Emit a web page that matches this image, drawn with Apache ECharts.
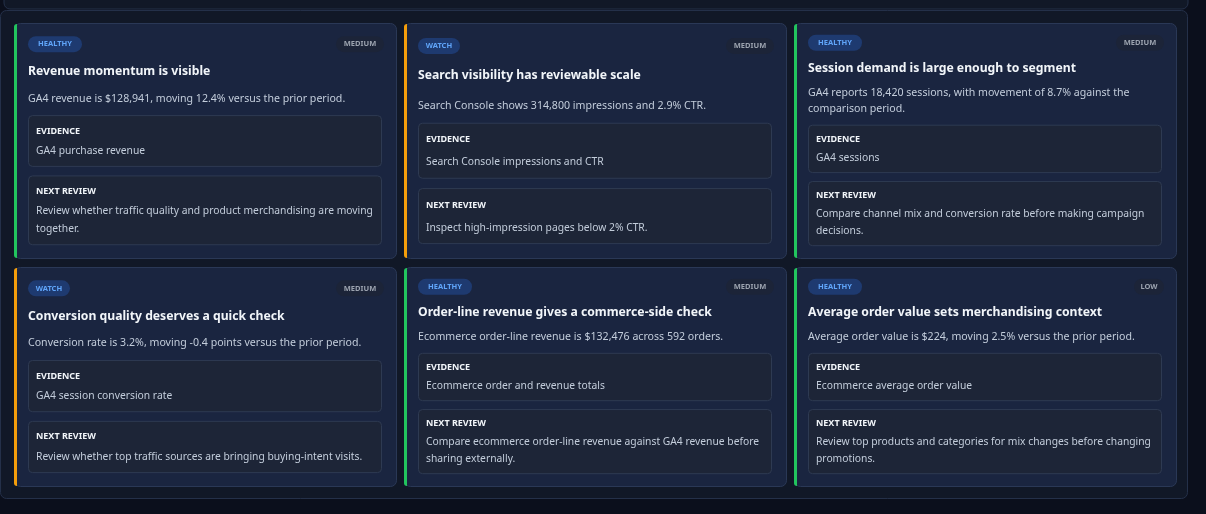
<!DOCTYPE html><html><head><meta charset="utf-8">
<script src="https://cdn.jsdelivr.net/npm/echarts@6/dist/echarts.min.js"></script>
<style>html,body{margin:0;background:#0b0f1c}#c{width:1206px;height:514px}</style></head><body><div id="c"></div><script>
const statuses=["HEALTHY","WATCH","HEALTHY","WATCH","HEALTHY","HEALTHY"];
const priorities=["MEDIUM","MEDIUM","MEDIUM","MEDIUM","MEDIUM","LOW"];
const titles=["Revenue momentum is visible","Search visibility has reviewable scale","Session demand is large enough to segment","Conversion quality deserves a quick check","Order-line revenue gives a commerce-side check","Average order value sets merchandising context"];
const descriptions=["GA4 revenue is $128,941, moving 12.4% versus the prior period.","Search Console shows 314,800 impressions and 2.9% CTR.","GA4 reports 18,420 sessions, with movement of 8.7% against the\ncomparison period.","Conversion rate is 3.2%, moving -0.4 points versus the prior period.","Ecommerce order-line revenue is $132,476 across 592 orders.","Average order value is $224, moving 2.5% versus the prior period."];
const evidence=["GA4 purchase revenue","Search Console impressions and CTR","GA4 sessions","GA4 session conversion rate","Ecommerce order and revenue totals","Ecommerce average order value"];
const nextReview=["Review whether traffic quality and product merchandising are moving\ntogether.","Inspect high-impression pages below 2% CTR.","Compare channel mix and conversion rate before making campaign\ndecisions.","Review whether top traffic sources are bringing buying-intent visits.","Compare ecommerce order-line revenue against GA4 revenue before\nsharing externally.","Review top products and categories for mix changes before changing\npromotions."];

const F='"Noto Sans", sans-serif';
const g=[];
g.push({type:'rect',shape:{x:4,y:-20,width:1184,height:29,r:6},style:{fill:'#111827',stroke:'#243049',lineWidth:1}});
g.push({type:'rect',shape:{x:0.5,y:10.5,width:1187,height:488,r:6},style:{fill:'#111827',stroke:'#243049',lineWidth:1}});
const colX=[14,404,794], rowY=[23,267], rowH=[235,219], W=382;
titles.forEach((t,i)=>{
  const x=colX[i%3], y=rowY[Math.floor(i/3)], H=rowH[Math.floor(i/3)];
  const healthy=statuses[i]==="HEALTHY";
  const dl=descriptions[i].split('\n').length, nl=nextReview[i].split('\n').length, el=evidence[i].split('\n').length;
  const evH=15+18+17*(el-1)+15, nxH=15+18+17*(nl-1)+15;
  const nat=20+26+25+16*(dl-1)+16+evH+9+nxH+13;
  const s=H/nat;
  g.push({type:'rect',shape:{x:x+0.5,y:y+0.5,width:W,height:H,r:6},style:{fill:'#1a2540',stroke:'#2a3856',lineWidth:1}});
  g.push({type:'rect',shape:{x:x,y:y+1,width:3,height:H-1,r:[6,0,0,6]},style:{fill:healthy?'#22c55e':'#f59e0b'}});
  let cy=y+20*s;
  const bw=statuses[i].length*6+12;
  g.push({type:'rect',shape:{x:x+14,y:cy-8,width:bw,height:16,r:8},style:{fill:'#1e3a70'}});
  g.push({type:'text',x:x+14+bw/2,y:cy,style:{text:statuses[i],fill:'#60a5fa',font:'bold 7.5px '+F,align:'center',verticalAlign:'middle'}});
  const pw=priorities[i].length*6+12;
  g.push({type:'rect',shape:{x:x+W-12-pw,y:cy-8,width:pw,height:16,r:8},style:{fill:'#1c2438'}});
  g.push({type:'text',x:x+W-12-pw/2,y:cy,style:{text:priorities[i],fill:'#9ca3af',font:'bold 7.5px '+F,align:'center',verticalAlign:'middle'}});
  cy+=26*s;
  g.push({type:'text',x:x+14,y:cy,style:{text:t,fill:'#f1f5f9',font:'bold 12.2px '+F,verticalAlign:'middle'}});
  cy+=25*s;
  g.push({type:'text',x:x+14,y:cy-8,style:{text:descriptions[i],fill:'#c3cddb',font:'10.6px '+F,lineHeight:16*s,verticalAlign:'top'}});
  cy+=16*(dl-1)*s+16*s;
  [[ 'EVIDENCE',evidence[i],evH],['NEXT REVIEW',nextReview[i],nxH]].forEach(([lab,txt,h],k)=>{
    g.push({type:'rect',shape:{x:x+14.5,y:cy+0.5,width:W-29,height:h*s,r:4},style:{fill:'#1d2537',stroke:'#2e3a52',lineWidth:1}});
    g.push({type:'text',x:x+22,y:cy+15*s,style:{text:lab,fill:'#f1f5f9',font:'bold 9px '+F,verticalAlign:'middle'}});
    g.push({type:'text',x:x+22,y:cy+33*s-8,style:{text:txt,fill:'#c3cddb',font:'10.3px '+F,lineHeight:17*s,verticalAlign:'top'}});
    cy+=h*s+9*s;
  });
});
const ch=echarts.init(document.getElementById('c'));
ch.setOption({backgroundColor:'#0b0f1c',graphic:{elements:g}});
</script></body></html>
